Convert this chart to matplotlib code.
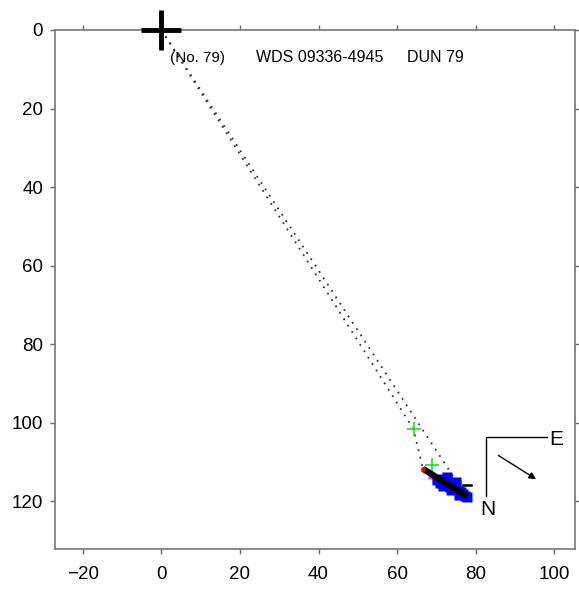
import numpy as np
import matplotlib.pyplot as plt

plt.rcParams['font.family'] = ['Liberation Sans', 'DejaVu Sans']

# primary star
primary_x = [0.0]
primary_y = [0.0]

# dotted lines from primary through predicted positions
dot1_x = [0.0, 64.2, 66.6]
dot1_y = [0.0, 101.6, 111.7]
dot2_x = [0.0, 76.5]
dot2_y = [0.0, 117.0]

# green crosses (predicted positions)
green_x = [64.2, 68.8]
green_y = [101.6, 110.7]

# observed measurements (blue squares)
blue_x = [70.2, 70.9, 71.6, 72.3, 72.8, 73.4, 74.0, 74.5, 75.1, 75.7, 76.3, 76.8, 77.3, 77.8, 71.8, 73.8, 75.9, 72.6, 74.9]
blue_y = [114.6, 115.3, 114.3, 115.8, 114.6, 116.3, 115.4, 116.9, 115.9, 117.3, 117.6, 118.2, 118.6, 118.9, 116.0, 117.0, 118.3, 113.9, 115.1]

# magenta points
mag_x = [68.6, 69.6, 71.0, 72.6, 74.3, 75.4, 76.2]
mag_y = [113.4, 114.6, 115.9, 116.7, 117.3, 118.1, 117.5]

# thick black segment (orbit arc)
seg_x = [66.6, 78.0]
seg_y = [111.7, 118.8]

# compass
comp_x = [98.2, 82.7, 82.7]
comp_y = [103.5, 103.5, 118.6]
arrow_start = (85.2, 107.9)
arrow_end = (96.0, 114.7)

fig = plt.figure(figsize=(5.79, 5.90), dpi=100)
ax = fig.add_axes([0.095, 0.0695, 0.898, 0.8797])

ax.plot(dot1_x, dot1_y, ls=(0, (1, 3.2)), color='#333333', lw=1.3)
ax.plot(dot2_x, dot2_y, ls=(0, (1, 3.2)), color='#333333', lw=1.3)

ax.plot(green_x, green_y, '+', color='#22dd22', ms=10, mew=1.2)
ax.plot(mag_x, mag_y, 's', color='#ff33ff', ms=4.5, mec='none')
ax.plot(blue_x, blue_y, 's', color='#0000ff', ms=7, mec='none')
ax.plot(seg_x, seg_y, '-', color='black', lw=4.5, solid_capstyle='butt')
ax.plot([seg_x[0]], [seg_y[0]], 'o', color='red', ms=3.5, mec='none')
ax.plot([76.8, 78.8], [115.8, 115.8], '-', color='black', lw=1.8)

ax.plot(primary_x, primary_y, '+', color='black', ms=29, mew=3.5, clip_on=False, zorder=5)

ax.text(2.2, 7.1, '(No. 79)', fontsize=11, va='center', ha='left')
ax.text(24.1, 7.1, 'WDS 09336-4945', fontsize=11.5, va='center', ha='left')
ax.text(62.5, 7.1, 'DUN 79', fontsize=11.5, va='center', ha='left')

ax.plot(comp_x, comp_y, '-', color='black', lw=1.0)
ax.text(98.7, 104.3, 'E', fontsize=15, va='center', ha='left')
ax.text(83.1, 122.1, 'N', fontsize=15, va='center', ha='center')
ax.annotate('', xy=arrow_end, xytext=arrow_start,
            arrowprops=dict(arrowstyle='-|>', color='black', lw=1.0, mutation_scale=10))

ax.set_xlim(-27.1, 105.3)
ax.set_ylim(132.1, 0.0)
ax.set_xticks([-20, 0, 20, 40, 60, 80, 100])
ax.set_yticks([0, 20, 40, 60, 80, 100, 120])
ax.set_xticklabels(['\u221220', '0', '20', '40', '60', '80', '100'])
ax.tick_params(direction='out', length=3.6, width=1, color='#666666', labelsize=13.5,
               top=True, right=True)
ax.tick_params(axis='x', pad=9)
ax.tick_params(axis='y', pad=5)
for s in ax.spines.values():
    s.set_color('#777777')
    s.set_linewidth(1.2)

fig.savefig('out.png', dpi=100)
